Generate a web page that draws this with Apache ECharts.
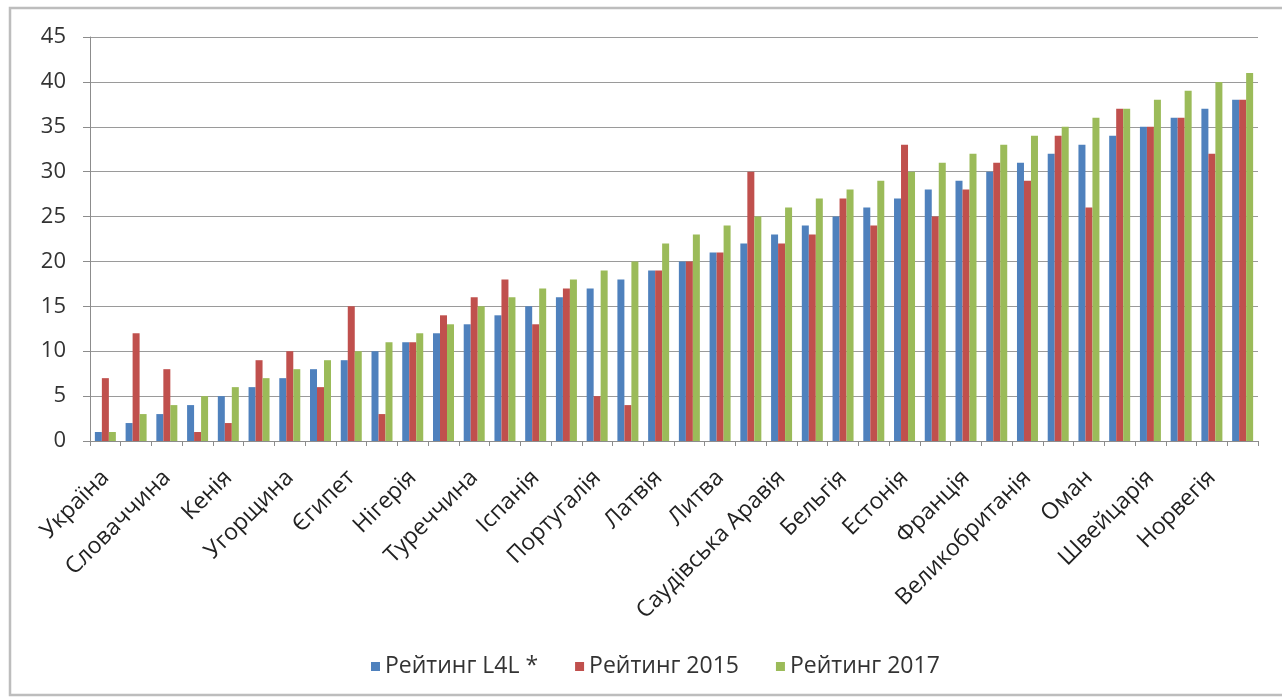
<!DOCTYPE html>
<html>
<head>
<meta charset="utf-8">
<script src="https://cdn.jsdelivr.net/npm/echarts@6/dist/echarts.min.js"></script>
<style>
  html, body { margin: 0; padding: 0; background: #fff; }
  #chart { width: 1282px; height: 699px; }
</style>
</head>
<body>
<div id="chart"></div>
<script>
// Categories (only every other label is visible in the reference)
const categories = [
  'Україна', '', 'Словаччина', '', 'Кенія', '', 'Угорщина', '', 'Єгипет', '',
  'Нігерія', '', 'Туреччина', '', 'Іспанія', '', 'Португалія', '', 'Латвія', '',
  'Литва', '', 'Саудівська Аравія', '', 'Бельгія', '', 'Естонія', '', 'Франція', '',
  'Великобританія', '', 'Оман', '', 'Швейцарія', '', 'Норвегія', ''
];

const seriesNames = ['Рейтинг L4L *', 'Рейтинг 2015', 'Рейтинг 2017'];

const ratingL4L = [
  1, 2, 3, 4, 5, 6, 7, 8, 9, 10,
  11, 12, 13, 14, 15, 16, 17, 18, 19, 20,
  21, 22, 23, 24, 25, 26, 27, 28, 29, 30,
  31, 32, 33, 34, 35, 36, 37, 38
];

const rating2015 = [
  7, 12, 8, 1, 2, 9, 10, 6, 15, 3,
  11, 14, 16, 18, 13, 17, 5, 4, 19, 20,
  21, 30, 22, 23, 27, 24, 33, 25, 28, 31,
  29, 34, 26, 37, 35, 36, 32, 38
];

const rating2017 = [
  1, 3, 4, 5, 6, 7, 8, 9, 10, 11,
  12, 13, 15, 16, 17, 18, 19, 20, 22, 23,
  24, 25, 26, 27, 28, 29, 30, 31, 32, 33,
  34, 35, 36, 37, 38, 39, 40, 41
];

const yTicks = { min: 0, max: 45, interval: 5 };

const colors = ['#4F81BD', '#C0504D', '#9BBB59'];
const fontFamily = '"Open Sans", "Noto Sans", sans-serif';

const chart = echarts.init(document.getElementById('chart'), null, { renderer: 'canvas' });

function bar(name, data, color) {
  return {
    name: name,
    type: 'bar',
    data: data,
    barWidth: 7,
    barGap: '0%',
    itemStyle: { color: color },
    emphasis: { disabled: true }
  };
}

chart.setOption({
  animation: false,
  color: colors,
  textStyle: { fontFamily: fontFamily },
  graphic: [{
    type: 'rect',
    shape: { x: 10, y: 8, width: 1290, height: 687 },
    style: { fill: 'none', stroke: '#BDBDBD', lineWidth: 2.5 },
    silent: true,
    z: -1
  }],
  grid: { left: 90, right: 24, top: 37, bottom: 258, containLabel: false },
  legend: {
    data: seriesNames,
    left: 366,
    top: 650,
    icon: 'rect',
    itemWidth: 9,
    itemHeight: 9,
    itemGap: 37,
    textStyle: { fontSize: 23, color: '#333', fontFamily: fontFamily }
  },
  xAxis: {
    type: 'category',
    data: categories,
    axisLine: { show: true, lineStyle: { color: '#8C8C8C', width: 1 } },
    axisTick: { show: true, interval: 0, length: 5, alignWithLabel: false, lineStyle: { color: '#8C8C8C' } },
    axisLabel: {
      interval: 0,
      rotate: 45,
      margin: 33,
      fontSize: 23,
      color: '#222',
      fontFamily: fontFamily
    },
    splitLine: { show: false }
  },
  yAxis: {
    type: 'value',
    min: yTicks.min,
    max: yTicks.max,
    interval: yTicks.interval,
    axisLine: { show: true, lineStyle: { color: '#8C8C8C', width: 1 } },
    axisTick: { show: true, length: 7, lineStyle: { color: '#8C8C8C' } },
    axisLabel: { fontSize: 22, color: '#333', margin: 24, fontFamily: fontFamily },
    splitLine: { show: true, lineStyle: { color: '#9A9A9A', width: 1 } }
  },
  series: [
    bar(seriesNames[0], ratingL4L, colors[0]),
    bar(seriesNames[1], rating2015, colors[1]),
    bar(seriesNames[2], rating2017, colors[2])
  ]
});
</script>
</body>
</html>
